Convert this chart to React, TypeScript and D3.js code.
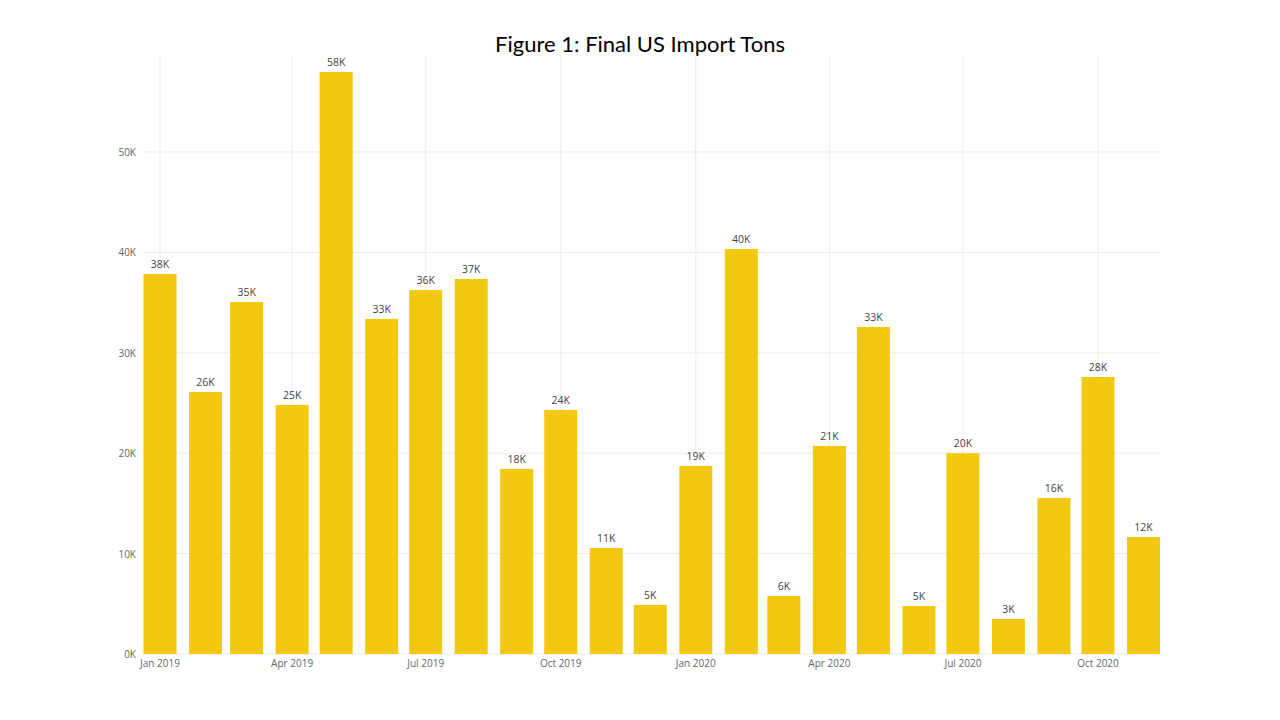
import React from "react";
import * as d3 from "d3";

const months: string[] = [
  "2019-01","2019-02","2019-03","2019-04","2019-05","2019-06","2019-07","2019-08","2019-09","2019-10","2019-11","2019-12",
  "2020-01","2020-02","2020-03","2020-04","2020-05","2020-06","2020-07","2020-08","2020-09","2020-10","2020-11",
];
const tons: number[] = [
  37850, 26100, 35060, 24800, 57970, 33370, 36250, 37350, 18430, 24300, 10560, 4880,
  18730, 40340, 5780, 20720, 32570, 4780, 20000, 3490, 15540, 27590, 11650,
];
const yTicks: number[] = [0, 10000, 20000, 30000, 40000, 50000];
const xTickMonths: string[] = ["2019-01","2019-04","2019-07","2019-10","2020-01","2020-04","2020-07","2020-10"];
const title = "Figure 1: Final US Import Tons";

const parse = d3.timeParse("%Y-%m");
const fmtMonth = d3.timeFormat("%b %Y");
const fmtK = (v: number) => `${Math.round(v / 1000)}K`;

export default function App() {
  const W = 1280, H = 720;
  const plotLeft = 143, plotRight = 1160, plotTop = 55, plotBottom = 654;
  const first = parse(months[0])!;
  const last = parse(months[months.length - 1])!;
  const x = d3.scaleTime().domain([first, last]).range([160, 1143.5]);
  const y = d3.scaleLinear().domain([0, 59660]).range([plotBottom, plotTop]);
  const barW = 33;
  const axisFont = "'Segoe UI', 'Open Sans', 'DejaVu Sans', sans-serif";

  return (
    <svg width={W} height={H} style={{ position: "absolute", left: 0, top: 0, background: "#fff" }}>
      <text x={640} y={52} textAnchor="middle" fontFamily="Lato, 'Open Sans', sans-serif" fontSize={22} fill="#000">
        {title}
      </text>
      {yTicks.map((t) => (
        <g key={t}>
          <line x1={plotLeft} x2={plotRight} y1={y(t)} y2={y(t)} stroke="#ececec" strokeWidth={1} />
          <text x={136} y={y(t) + 4} textAnchor="end" fontFamily={axisFont} fontSize={10} fill="#666">
            {fmtK(t)}
          </text>
        </g>
      ))}
      {xTickMonths.map((m) => {
        const d = parse(m)!;
        return (
          <g key={m}>
            <line x1={x(d)} x2={x(d)} y1={plotTop} y2={plotBottom} stroke="#ececec" strokeWidth={1} />
            <text x={x(d)} y={667} textAnchor="middle" fontFamily={axisFont} fontSize={10} fill="#666">
              {fmtMonth(d)}
            </text>
          </g>
        );
      })}
      {months.map((m, i) => {
        const d = parse(m)!;
        const cx = x(d);
        return (
          <g key={m}>
            <rect x={cx - barW / 2} y={y(tons[i])} width={barW} height={plotBottom - y(tons[i])} fill="#F2C811" />
            <text x={cx} y={y(tons[i]) - 6} textAnchor="middle" fontFamily={axisFont} fontSize={10.5} fill="#444">
              {fmtK(tons[i])}
            </text>
          </g>
        );
      })}
    </svg>
  );
}
